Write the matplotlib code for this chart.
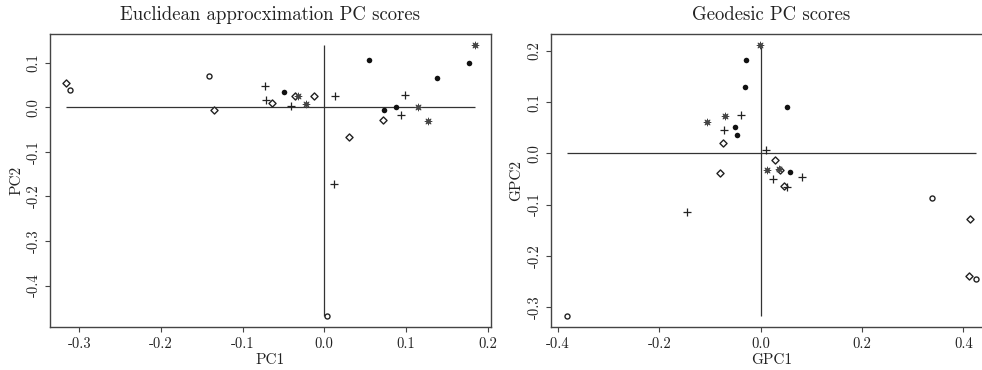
import numpy as np
import matplotlib
matplotlib.use('Agg')
import matplotlib.pyplot as plt

plt.rcParams['font.family'] = ['cmr10', 'DejaVu Serif']
plt.rcParams['axes.unicode_minus'] = False
plt.rcParams['mathtext.fontset'] = 'cm'

# Euclidean approximation PC scores (PC1, PC2), by marker group
euc_circle = [(-0.311, 0.039), (-0.1405, 0.070), (0.0037, -0.4687)]
euc_diamond = [(-0.3157, 0.053), (-0.1348, -0.006), (-0.0644, 0.009), (-0.0363, 0.024),
               (-0.013, 0.0246), (0.0297, -0.0672), (0.0721, -0.0291)]
euc_plus = [(-0.0721, 0.047), (-0.0717, 0.0164), (-0.0407, 0.002), (0.0134, 0.0246),
            (0.0118, -0.1716), (0.099, 0.0269), (0.0945, -0.0187)]
euc_filled = [(-0.0489, 0.0343), (0.055, 0.1067), (0.0733, -0.006), (0.0884, 0.0007),
              (0.1385, 0.0642), (0.1772, 0.0978)]
euc_star = [(-0.0322, 0.024), (-0.0228, 0.0075), (0.1149, 0.0007), (0.1271, -0.032),
            (0.1841, 0.1396)]

# Geodesic PC scores (GPC1, GPC2)
geo_circle = [(-0.3816, -0.318), (0.3389, -0.0865), (0.4243, -0.245)]
geo_diamond = [(-0.0742, 0.0208), (0.0289, -0.0137), (0.0388, -0.033), (0.0453, -0.0644),
               (-0.0801, -0.0384), (0.4125, -0.1287), (0.4105, -0.240)]
geo_plus = [(-0.0394, 0.0754), (-0.0729, 0.0449), (0.0099, 0.0072), (0.025, -0.0494),
            (0.0808, -0.0468), (0.0519, -0.0663), (-0.1452, -0.1151)]
geo_filled = [(-0.0282, 0.182), (-0.0315, 0.130), (0.0512, 0.0904), (-0.0512, 0.052),
              (-0.0473, 0.0358), (0.0571, -0.0358)]
geo_star = [(-0.0013, 0.212), (-0.0696, 0.0722), (-0.105, 0.0618), (0.0131, -0.0332),
            (0.0355, -0.030)]

euc_xticks = [-0.3, -0.2, -0.1, 0.0, 0.1, 0.2]
euc_yticks = [-0.4, -0.3, -0.2, -0.1, 0.0, 0.1]
geo_xticks = [-0.4, -0.2, 0.0, 0.2, 0.4]
geo_yticks = [-0.3, -0.2, -0.1, 0.0, 0.1, 0.2]

INK = '#222222'


def r_lim(v):
    lo, hi = min(v), max(v)
    d = (hi - lo) * 0.04
    return lo - d, hi + d


def draw_panel(ax, groups, title, xlab, ylab, xticks, yticks, ylab_x):
    allpts = np.array([p for g in groups for p in g])
    xs, ys = allpts[:, 0], allpts[:, 1]
    circ, diam, plus, fill, star = [np.array(g) for g in groups]

    ax.hlines(0, xs.min(), xs.max(), color='#333333', lw=0.9, zorder=1)
    ax.vlines(0, ys.min(), ys.max(), color='#333333', lw=0.9, zorder=1)

    ax.scatter(circ[:, 0], circ[:, 1], marker='o', s=13, facecolors='white',
               edgecolors=INK, linewidths=1.0, zorder=3)
    ax.scatter(diam[:, 0], diam[:, 1], marker='D', s=13, facecolors='white',
               edgecolors=INK, linewidths=1.0, zorder=3)
    ax.scatter(plus[:, 0], plus[:, 1], marker='+', s=36, c=INK, linewidths=0.9, zorder=3)
    ax.scatter(fill[:, 0], fill[:, 1], marker='o', s=16, c='#111111', linewidths=0, zorder=3)
    ax.scatter(star[:, 0], star[:, 1], marker='o', s=14, c='#666666', linewidths=0, zorder=3)
    ax.scatter(star[:, 0], star[:, 1], marker=(8, 2, 0), s=24, c='#444444',
               linewidths=0.6, zorder=4)

    ax.set_xlim(*r_lim(xs))
    ax.set_ylim(*r_lim(ys))
    ax.set_xticks(xticks)
    ax.set_yticks(yticks)
    ax.set_xticklabels(['%.1f' % t for t in xticks])
    ax.set_yticklabels(['%.1f' % t for t in yticks], rotation=90, va='center')
    ax.tick_params(axis='both', direction='out', length=3.6, width=0.8, color='#444444',
                   labelsize=10.5, labelcolor=INK)
    ax.tick_params(axis='x', pad=4.0)
    ax.tick_params(axis='y', pad=3.0)
    for sp in ax.spines.values():
        sp.set_color('#444444')
        sp.set_linewidth(1.0)

    ax.set_xlabel(xlab, fontsize=11, color=INK, va='center')
    ax.xaxis.set_label_coords(0.5, -(360 - 327) / 293)
    ax.set_ylabel(ylab, fontsize=11, color=INK, va='center')
    ax.yaxis.set_label_coords(ylab_x, 0.5)
    ax.text(0.5, 1 + (34 - 15) / 293, title, transform=ax.transAxes, ha='center',
            va='center', fontsize=13.5, color=INK)


fig = plt.figure(figsize=(9.82, 3.70), dpi=100)
ax1 = fig.add_axes([50 / 982, 1 - 327 / 370, 441 / 982, 293 / 370])
ax2 = fig.add_axes([551 / 982, 1 - 327 / 370, 441 / 982, 293 / 370])

draw_panel(ax1, [euc_circle, euc_diamond, euc_plus, euc_filled, euc_star],
           'Euclidean approcximation PC scores', 'PC1', 'PC2',
           euc_xticks, euc_yticks, -(50 - 17) / 441)
draw_panel(ax2, [geo_circle, geo_diamond, geo_plus, geo_filled, geo_star],
           'Geodesic PC scores', 'GPC1', 'GPC2',
           geo_xticks, geo_yticks, -(551 - 516) / 441)

fig.savefig('out.png', dpi=100)
